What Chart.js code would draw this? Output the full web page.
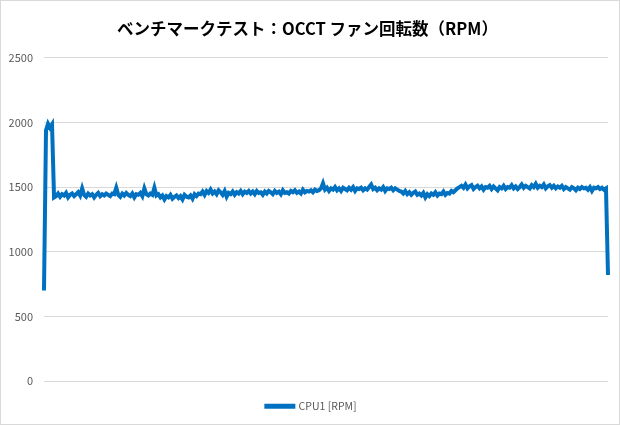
<!DOCTYPE html>
<html>
<head>
<meta charset="utf-8">
<script src="https://cdn.jsdelivr.net/npm/chart.js@4"></script>
<style>
  html, body { margin: 0; padding: 0; background: #fff; }
  #wrap { position: relative; width: 618px; height: 423px; border: 1px solid #d9d9d9; }
</style>
</head>
<body>
<div id="wrap"><canvas id="c" width="618" height="423"></canvas></div>
<script>
// ===== データ =====
const chartTitle = 'ベンチマークテスト：OCCT ファン回転数（RPM）';
const seriesName = 'CPU1 [RPM]';
const yTicks = [0, 500, 1000, 1500, 2000, 2500];

// 回転数（サンプル順）
const rpm = [
    700, 1940, 1990, 1960, 1985, 1420,
    1430, 1450, 1425, 1445, 1435, 1455, 1420, 1440, 1450, 1430, 1445, 1460, 1435, 1490, 1440, 1425, 1450, 1435, 1445, 1420, 1440, 1455, 1430, 1445, 1435, 1450, 1440,
    1430, 1450, 1445, 1495, 1440, 1425, 1450, 1435, 1455, 1440, 1430, 1450, 1420, 1445, 1440, 1455, 1430, 1490, 1445, 1435, 1450, 1440, 1495, 1435, 1445,
    1420, 1435, 1405, 1430, 1420, 1440, 1410, 1425, 1435, 1415, 1430, 1405, 1440, 1425, 1420, 1435, 1410, 1445, 1430, 1450,
    1445, 1465, 1440, 1470, 1455, 1480, 1450, 1465, 1445, 1475, 1460, 1440, 1470, 1425, 1455, 1445, 1465, 1440, 1460, 1450, 1470, 1445, 1465, 1455, 1470,
    1450, 1465, 1445, 1470, 1455, 1460, 1440, 1465, 1450, 1470, 1460, 1445, 1470, 1455, 1465, 1445, 1475, 1455, 1460, 1450, 1470, 1460, 1475, 1455, 1465, 1450, 1480, 1460, 1470, 1465, 1475, 1460, 1480, 1470, 1475,
    1490, 1530, 1480, 1495, 1470, 1490, 1480, 1500, 1475, 1490, 1470, 1495, 1485, 1475, 1495, 1480, 1500, 1470, 1490, 1485,
    1495, 1475, 1490, 1480, 1500, 1520, 1485, 1495, 1475, 1490, 1480, 1500, 1470, 1490, 1485, 1495, 1475, 1490, 1480, 1470,
    1465, 1450, 1470, 1445, 1460, 1440, 1455, 1465, 1440, 1450, 1435, 1455, 1420, 1445, 1430, 1450, 1440, 1460, 1435, 1450, 1445, 1465, 1440, 1455, 1450, 1470, 1460, 1475, 1490, 1500,
    1510, 1495, 1520, 1490, 1505, 1515, 1485, 1500, 1510, 1490,
    1505, 1480, 1500, 1495, 1510, 1485, 1505, 1490, 1475, 1500,
    1490, 1510, 1485, 1500, 1495, 1515, 1490, 1505, 1485, 1500,
    1520, 1495, 1510, 1500, 1490, 1515, 1500, 1525, 1495, 1510,
    1500, 1520, 1490, 1505, 1515, 1495, 1510, 1490, 1505, 1495,
    1510, 1485, 1500, 1490, 1480, 1500, 1490, 1475, 1495, 1485,
    1500, 1490, 1495, 1480, 1500, 1470, 1495, 1490, 1500, 1485,
    1495, 1480, 1490,
    820
];
const samples = rpm.map((_, i) => i + 1);

const lineColor = '#0070c0';
const fontJP = '"Noto Sans CJK JP", sans-serif';

// 凡例を少し右へ寄せる
const legendShift = {
    id: 'legendShift',
    afterLayout(chart) {
        chart.legend.left += 4;
        chart.legend.right += 4;
    }
};

new Chart(document.getElementById('c'), {
    type: 'line',
    data: {
        labels: samples,
        datasets: [{
            label: seriesName,
            data: rpm,
            borderColor: lineColor,
            backgroundColor: lineColor,
            borderWidth: 4,
            pointRadius: 0,
            tension: 0
        }]
    },
    options: {
        responsive: false,
        animation: false,
        layout: { padding: { left: 6, right: 11, top: 0, bottom: 2.5 } },
        plugins: {
            title: {
                display: true,
                text: chartTitle,
                color: '#000',
                font: { family: fontJP, size: 16.5, weight: 'bold' },
                padding: { top: 18, bottom: 19 }
            },
            legend: {
                position: 'bottom',
                labels: {
                    color: '#595959',
                    font: { family: fontJP, size: 10.5 },
                    boxWidth: 27,
                    boxHeight: 1,
                    padding: 20
                }
            },
            tooltip: { enabled: false }
        },
        scales: {
            x: {
                display: false
            },
            y: {
                min: 0,
                max: 2500,
                afterBuildTicks: axis => { axis.ticks = yTicks.map(v => ({ value: v })); },
                afterFit: axis => { axis.width = 37; },
                border: { display: false },
                grid: { color: '#d9d9d9', lineWidth: 1, drawTicks: false },
                ticks: {
                    color: '#595959',
                    padding: 11,
                    callback: v => String(v),
                    font: { family: fontJP, size: 11 }
                }
            }
        }
    },
    plugins: [legendShift]
});
</script>
</body>
</html>
